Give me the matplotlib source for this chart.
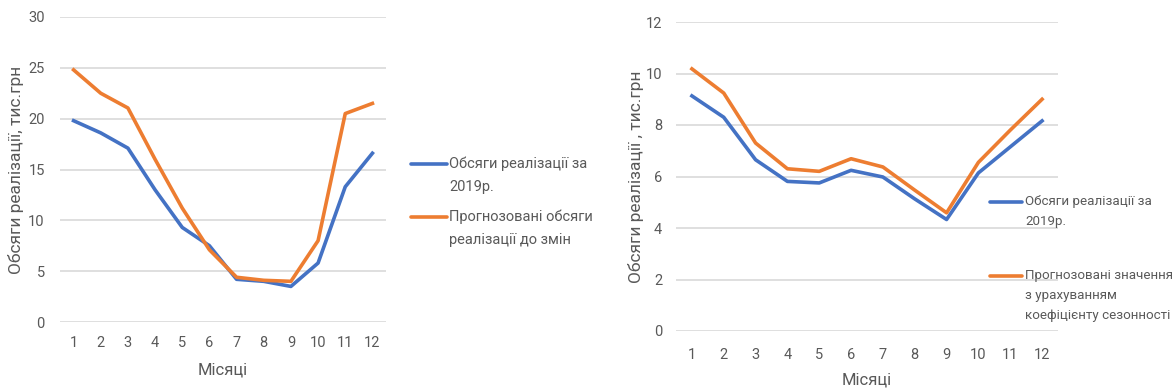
import matplotlib
matplotlib.use("Agg")
import matplotlib.pyplot as plt
from matplotlib.lines import Line2D

plt.rcParams['font.family'] = ['Roboto', 'DejaVu Sans']

months = list(range(1, 13))

# left chart: sales 2019 vs forecast before changes
sales_2019_a = [19.8, 18.6, 17.1, 13.0, 9.3, 7.5, 4.2, 4.0, 3.5, 5.8, 13.3, 16.6]
forecast_a = [24.8, 22.5, 21.05, 16.0, 11.2, 7.1, 4.4, 4.1, 4.0, 8.0, 20.5, 21.5]
yticks_a = [0, 5, 10, 15, 20, 25, 30]

# right chart: sales 2019 vs forecast with seasonality
sales_2019_b = [9.13, 8.3, 6.65, 5.81, 5.75, 6.24, 5.98, 5.13, 4.33, 6.14, 7.15, 8.16]
forecast_b = [10.18, 9.24, 7.3, 6.3, 6.2, 6.69, 6.37, 5.47, 4.59, 6.55, 7.8, 9.0]
yticks_b = [0, 2, 4, 6, 8, 10, 12]

ylabel_a = 'Обсяги реалізації, тис.грн'
ylabel_b = 'Обсяги реалізації , тис.грн'
xlabel = 'Місяці'
legend_a = ['Обсяги реалізації за\n2019р.', 'Прогнозовані обсяги\nреалізації до змін']
legend_b = ['Обсяги реалізації за\n2019р.', 'Прогнозовані значення\nз урахуванням\nкоефіцієнту сезонності']

BLUE = '#4472C4'
ORANGE = '#ED7D31'
GRID = '#D9D9D9'
TEXT = '#595959'

W, H = 1175, 392
fig = plt.figure(figsize=(W / 100, H / 100), dpi=100)


def px_axes(x0, y0, x1, y1):
    # pixel box (top-left origin) -> figure fraction axes
    return fig.add_axes([x0 / W, 1 - y1 / H, (x1 - x0) / W, (y1 - y0) / H])


def style(ax, yticks, ylabel, ylabel_x, ypad, xpad, xlabelpad):
    ax.set_xlim(0.5, 12.5)
    ax.set_ylim(yticks[0], yticks[-1])
    ax.set_yticks(yticks)
    ax.set_xticks(months)
    ax.grid(axis='y', color=GRID, linewidth=1.2)
    ax.set_axisbelow(True)
    for s in ax.spines.values():
        s.set_visible(False)
    ax.tick_params(length=0, colors=TEXT, labelsize=10.5)
    ax.tick_params(axis='y', pad=ypad)
    ax.tick_params(axis='x', pad=xpad)
    ax.set_xlabel(xlabel, color=TEXT, fontsize=12, labelpad=xlabelpad)
    ax.set_ylabel(ylabel, color=TEXT, fontsize=12.5)
    ax.yaxis.set_label_coords(ylabel_x, 0.5)


def legend(x0, x1, x_text, ys, labels, line_gap=20, size=10.5):
    for y, lab, col in zip(ys, labels, [BLUE, ORANGE]):
        fig.add_artist(Line2D([x0 / W, x1 / W], [1 - y / H, 1 - y / H],
                              color=col, linewidth=2.6, solid_capstyle='round',
                              transform=fig.transFigure))
        for i, line in enumerate(lab.split('\n')):
            fig.text(x_text / W, 1 - (y + i * line_gap) / H, line,
                     color=TEXT, fontsize=size, va='center', ha='left')


ax1 = px_axes(60, 17, 386, 322)
ax1.plot(months, sales_2019_a, color=BLUE, linewidth=2.6, solid_joinstyle='round')
ax1.plot(months, forecast_a, color=ORANGE, linewidth=2.6, solid_joinstyle='round')
style(ax1, yticks_a, ylabel_a, -0.11, 11, 10, 9)
legend(411, 447, 449, [164, 217], legend_a, line_gap=23)

ax2 = px_axes(676, 22, 1058, 331)
ax2.plot(months, sales_2019_b, color=BLUE, linewidth=2.6, solid_joinstyle='round')
ax2.plot(months, forecast_b, color=ORANGE, linewidth=2.6, solid_joinstyle='round')
style(ax2, yticks_b, ylabel_b, -0.084, 10, 12, 8)
legend(990, 1022, 1025, [202, 276], legend_b, line_gap=20, size=9.6)

fig.savefig('out.png', dpi=100)
